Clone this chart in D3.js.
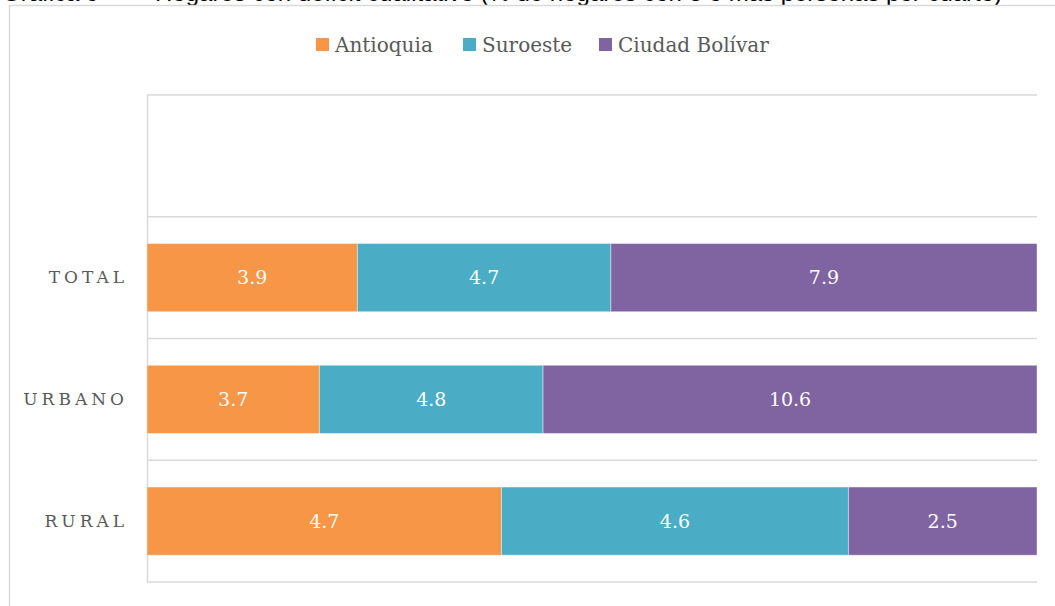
<!DOCTYPE html>
<html>
<head>
<meta charset="utf-8">
<script src="https://cdn.jsdelivr.net/npm/d3@7"></script>
<style>
  body { margin: 0; background: #fff; }
  svg { display: block; }
</style>
</head>
<body>
<div id="chart"></div>
<script>
// Data (first band is empty in the original)
const categories = ["", "TOTAL", "URBANO", "RURAL"];
const seriesNames = ["Antioquia", "Suroeste", "Ciudad Bolívar"];
const antioquia = [null, 3.9, 3.7, 4.7];
const suroeste = [null, 4.7, 4.8, 4.6];
const ciudadBolivar = [null, 7.9, 10.6, 2.5];
const colors = ["#F79646", "#4BACC6", "#8064A2"];
const titleParts = ["Gráfica 9 –", "Hogares con déficit cualitativo (% de hogares con 3 o más personas por cuarto)"];

const W = 1055, H = 606;
const margin = {top: 95, right: 18, bottom: 24, left: 147};
const width = W - margin.left - margin.right,
      height = H - margin.top - margin.bottom;

const root = d3.select("#chart")
  .append("svg")
  .attr("width", W)
  .attr("height", H);

// title sits above the frame and is cut off by the page edge
root.selectAll(".title")
  .data(titleParts)
  .enter().append("text")
  .attr("class", "title")
  .attr("x", (d, i) => i === 0 ? 2 : 155)
  .attr("y", 0.5)
  .style("font-family", "Liberation Sans, sans-serif")
  .style("font-size", "24px")
  .attr("fill", "#000")
  .text(d => d);

// outer chart frame
root.append("rect")
  .attr("x", 9.5)
  .attr("y", 5.5)
  .attr("width", W + 20)
  .attr("height", H + 20)
  .attr("fill", "none")
  .attr("stroke", "#d9d9d9")
  .attr("stroke-width", 1.5);

const svg = root.append("g")
  .attr("transform", `translate(${margin.left},${margin.top})`);

// build rows
const data = categories.map((c, i) => ({
  cat: c,
  "Antioquia": antioquia[i],
  "Suroeste": suroeste[i],
  "Ciudad Bolívar": ciudadBolivar[i]
}));
const rows = data.filter(d => d.Antioquia != null);

const stacked = d3.stack()
  .keys(seriesNames)
  .offset(d3.stackOffsetExpand)(rows);

const yScale = d3.scaleBand()
  .domain(categories)
  .range([0, height])
  .paddingInner(0.44)
  .paddingOuter(0.22);

const xScale = d3.scaleLinear()
  .domain([0, 1])
  .range([0, width]);

const colorScale = d3.scaleOrdinal()
  .domain(seriesNames)
  .range(colors);

// horizontal grid lines at band boundaries
const bounds = d3.range(categories.length + 1).map(i => i * height / categories.length);
svg.append("g")
  .selectAll("line")
  .data(bounds)
  .enter().append("line")
  .attr("x1", 0)
  .attr("x2", width)
  .attr("y1", d => d)
  .attr("y2", d => d)
  .attr("stroke", "#d9d9d9")
  .attr("stroke-width", 1.5);

// y axis
const yAxis = svg.append("g")
  .call(d3.axisLeft(yScale).tickSize(0).tickPadding(19));
yAxis.select(".domain")
  .attr("stroke", "#d9d9d9")
  .attr("stroke-width", 1.5);
yAxis.selectAll("text")
  .style("font-family", "DejaVu Serif, serif")
  .style("font-size", "17px")
  .style("letter-spacing", "4px")
  .attr("fill", "#595959");

// bars
const layers = svg.selectAll(".layer")
  .data(stacked)
  .enter().append("g")
  .attr("class", "layer")
  .attr("fill", d => colorScale(d.key));

layers.selectAll("rect")
  .data(d => d)
  .enter().append("rect")
  .attr("x", d => xScale(d[0]))
  .attr("y", d => yScale(d.data.cat))
  .attr("width", d => xScale(d[1]) - xScale(d[0]))
  .attr("height", yScale.bandwidth())
  .attr("stroke", "#fff")
  .attr("stroke-opacity", 0.4)
  .attr("stroke-width", 1);

// value labels
layers.each(function(layer) {
  d3.select(this).selectAll("text")
    .data(layer)
    .enter().append("text")
    .attr("x", d => (xScale(d[0]) + xScale(d[1])) / 2)
    .attr("y", d => yScale(d.data.cat) + yScale.bandwidth() / 2)
    .attr("dy", "0.36em")
    .attr("text-anchor", "middle")
    .style("font-family", "DejaVu Serif, serif")
    .style("font-size", "19px")
    .attr("fill", "#fff")
    .text(d => d3.format(".1f")(d.data[layer.key]));
});

// legend
const legendX = [316, 463, 599];
const legend = root.selectAll(".legend")
  .data(seriesNames)
  .enter().append("g")
  .attr("class", "legend")
  .attr("transform", (d, i) => `translate(${legendX[i]},38)`);

legend.append("rect")
  .attr("width", 13)
  .attr("height", 13)
  .attr("fill", d => colorScale(d));

legend.append("text")
  .attr("x", 19)
  .attr("y", 14)
  .style("font-family", "DejaVu Serif, serif")
  .style("font-size", "20px")
  .attr("fill", "#595959")
  .text(d => d);
</script>
</body>
</html>
